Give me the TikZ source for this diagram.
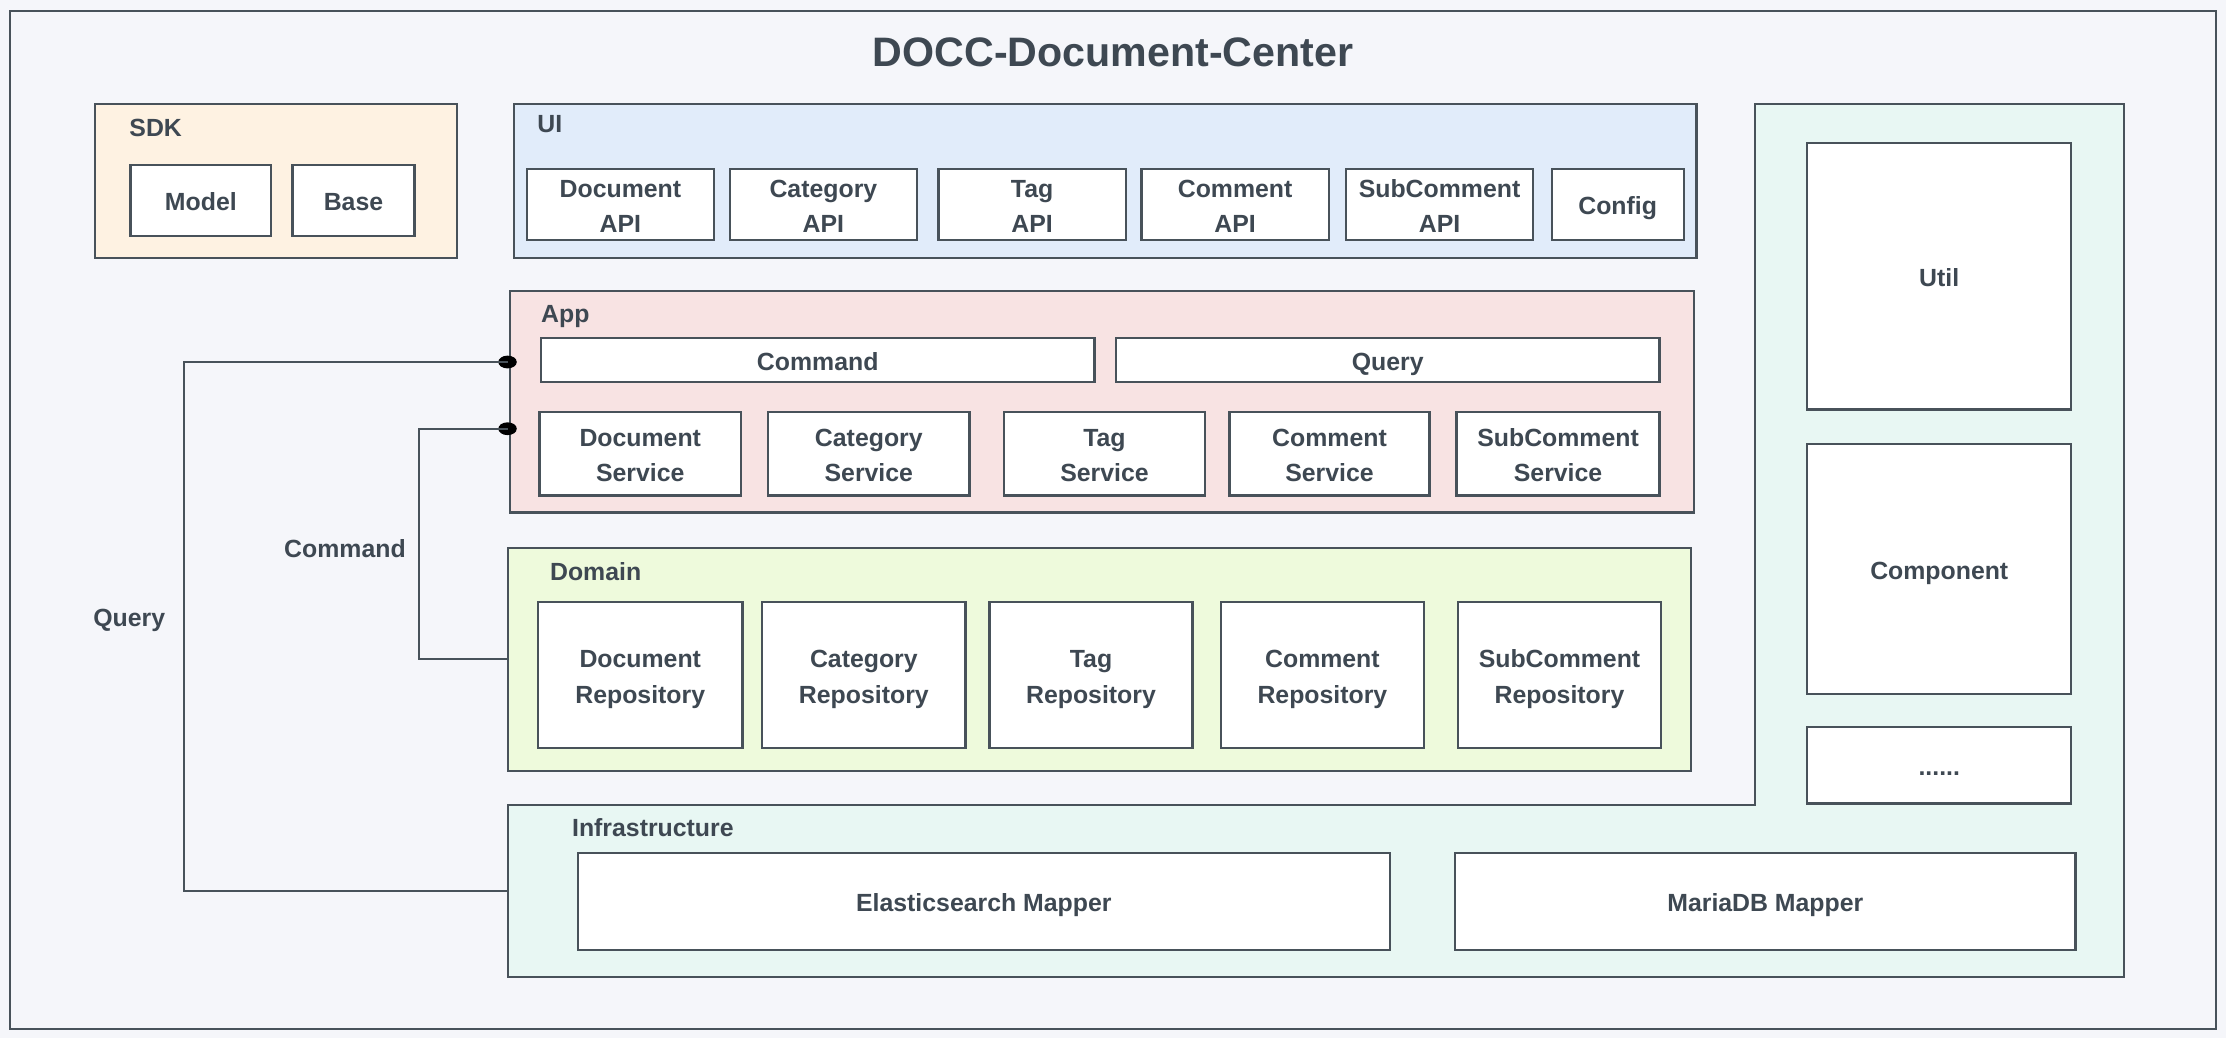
\documentclass[tikz,border=0pt]{standalone}
\usepackage{fontspec}
\setmainfont{Liberation Sans}
\usetikzlibrary{calc,shapes.geometric}
\definecolor{ink}{HTML}{3E4852}
\definecolor{edge}{HTML}{48525A}
\definecolor{bg}{HTML}{F5F6FA}
\definecolor{sdkfill}{HTML}{FEF2E2}
\definecolor{uifill}{HTML}{E1ECFA}
\definecolor{appfill}{HTML}{F8E3E3}
\definecolor{domfill}{HTML}{EEFADC}
\definecolor{infrafill}{HTML}{E8F7F3}
\begin{document}
\begin{tikzpicture}[x=1pt,y=-1pt,
  every node/.style={font=\fontsize{17.5}{25}\selectfont\bfseries, text=ink},
  cell/.style={draw=edge, fill=white, line width=1.6pt, inner sep=0pt, align=center,
    text height=14.6pt, text depth=0pt},
  cellii/.style={cell, text height=39.6pt},
  grp/.style={draw=edge, line width=1.5pt, inner sep=0pt},
  captxt/.style={inner sep=0pt, text height=12.6pt, text depth=0pt},
  lbl/.style={captxt, anchor=west},
  conn/.style={draw=edge, line width=1.5pt},
  dot/.style={ellipse, fill=black, inner sep=0pt, minimum width=13pt, minimum height=9pt}]
\useasboundingbox (0,0) rectangle (1568,731);
\fill[bg] (0,0) rectangle (1568,731);
% outer frame
\node[grp, minimum width=1554pt, minimum height=717pt] (frame) at (784,366.5) {};
\node[font=\fontsize{29}{34}\selectfont\bfseries, inner sep=0pt, text height=20.9pt, text depth=0pt] (title) at (784,36.4) {DOCC-Document-Center};

% SDK
\node[grp, fill=sdkfill, minimum width=255pt, minimum height=109pt] (sdk) at (194.5,127.5) {};
\node[lbl] (sdkl) at (91,89.8) {SDK};
\node[cell, minimum width=99pt, minimum height=50pt] (model) at (141.5,141) {Model};
\node[cell, minimum width=86pt, minimum height=50pt] (base) at (249,141) {Base};

% UI
\node[grp, fill=uifill, minimum width=833pt, minimum height=109pt] (ui) at (778.5,127.5) {};
\node[lbl] (uil) at (378.3,86.9) {UI};
\node[cellii, minimum width=132pt, minimum height=50pt] (docapi) at (437,144) {Document\\API};
\node[cellii, minimum width=132pt, minimum height=50pt] (catapi) at (580,144) {Category\\API};
\node[cellii, minimum width=132pt, minimum height=50pt] (tagapi) at (727,144) {Tag\\API};
\node[cellii, minimum width=132pt, minimum height=50pt] (comapi) at (870,144) {Comment\\API};
\node[cellii, minimum width=132pt, minimum height=50pt] (subapi) at (1014,144) {SubComment\\API};
\node[cell, minimum width=93pt, minimum height=50pt] (config) at (1139.5,144) {Config};

% App
\node[grp, fill=appfill, minimum width=834pt, minimum height=156pt] (app) at (776,283) {};
\node[lbl] (appl) at (381,220.7) {App};
\node[cell, minimum width=390pt, minimum height=31pt] (cmd) at (576,253.5) {Command};
\node[cell, minimum width=383pt, minimum height=31pt] (qry) at (977.5,253.5) {Query};
\node[cellii, minimum width=142pt, minimum height=59pt] (docsvc) at (451,319.5) {Document\\Service};
\node[cellii, minimum width=142pt, minimum height=59pt] (catsvc) at (612,319.5) {Category\\Service};
\node[cellii, minimum width=142pt, minimum height=59pt] (tagsvc) at (778,319.5) {Tag\\Service};
\node[cellii, minimum width=141pt, minimum height=59pt] (comsvc) at (936.5,319.5) {Comment\\Service};
\node[cellii, minimum width=143pt, minimum height=59pt] (subsvc) at (1097.5,319.5) {SubComment\\Service};

% Domain
\node[grp, fill=domfill, minimum width=833pt, minimum height=157pt] (dom) at (774.5,464.5) {};
\node[lbl] (doml) at (387.3,402.3) {Domain};
\node[cellii, minimum width=144pt, minimum height=103pt] (docrep) at (451,475.5) {Document\\Repository};
\node[cellii, minimum width=143pt, minimum height=103pt] (catrep) at (608.5,475.5) {Category\\Repository};
\node[cellii, minimum width=143pt, minimum height=103pt] (tagrep) at (768.5,475.5) {Tag\\Repository};
\node[cellii, minimum width=143pt, minimum height=103pt] (comrep) at (931.5,475.5) {Comment\\Repository};
\node[cellii, minimum width=143pt, minimum height=103pt] (subrep) at (1098.5,475.5) {SubComment\\Repository};

% Infrastructure (L-shaped)
\path[draw=edge, fill=infrafill, line width=1.5pt, line join=miter]
  (358,567) -- (1236,567) -- (1236,73) -- (1496,73) -- (1496,688) -- (358,688) -- cycle;
\node[inner sep=0pt, minimum width=1138pt, minimum height=121pt] (infra) at (927,627.5) {};
\node[lbl] (infral) at (402.8,583.1) {Infrastructure};
\node[cell, minimum width=572pt, minimum height=68pt] (es) at (693,635) {Elasticsearch Mapper};
\node[cell, minimum width=437pt, minimum height=68pt] (maria) at (1243.5,635) {MariaDB Mapper};
\node[cell, minimum width=186pt, minimum height=188pt] (util) at (1366,194.5) {Util};
\node[cell, minimum width=186pt, minimum height=176pt] (comp) at (1366,401) {Component};
\node[cell, minimum width=186pt, minimum height=54pt] (more) at (1366,539) {......};

% connectors
\node[dot] (dq) at (357.5,255) {};
\node[dot] (dc) at (357.5,302) {};
\draw[conn] (infra.west) -- ++(-228,0) |- (dq.center);
\draw[conn] (dom.west) -- ++(-62,0) |- (dc.center);
\node[captxt] (ql) at (91,435.2) {Query};
\node[captxt] (cl) at (243,386.2) {Command};
\end{tikzpicture}
\end{document}
